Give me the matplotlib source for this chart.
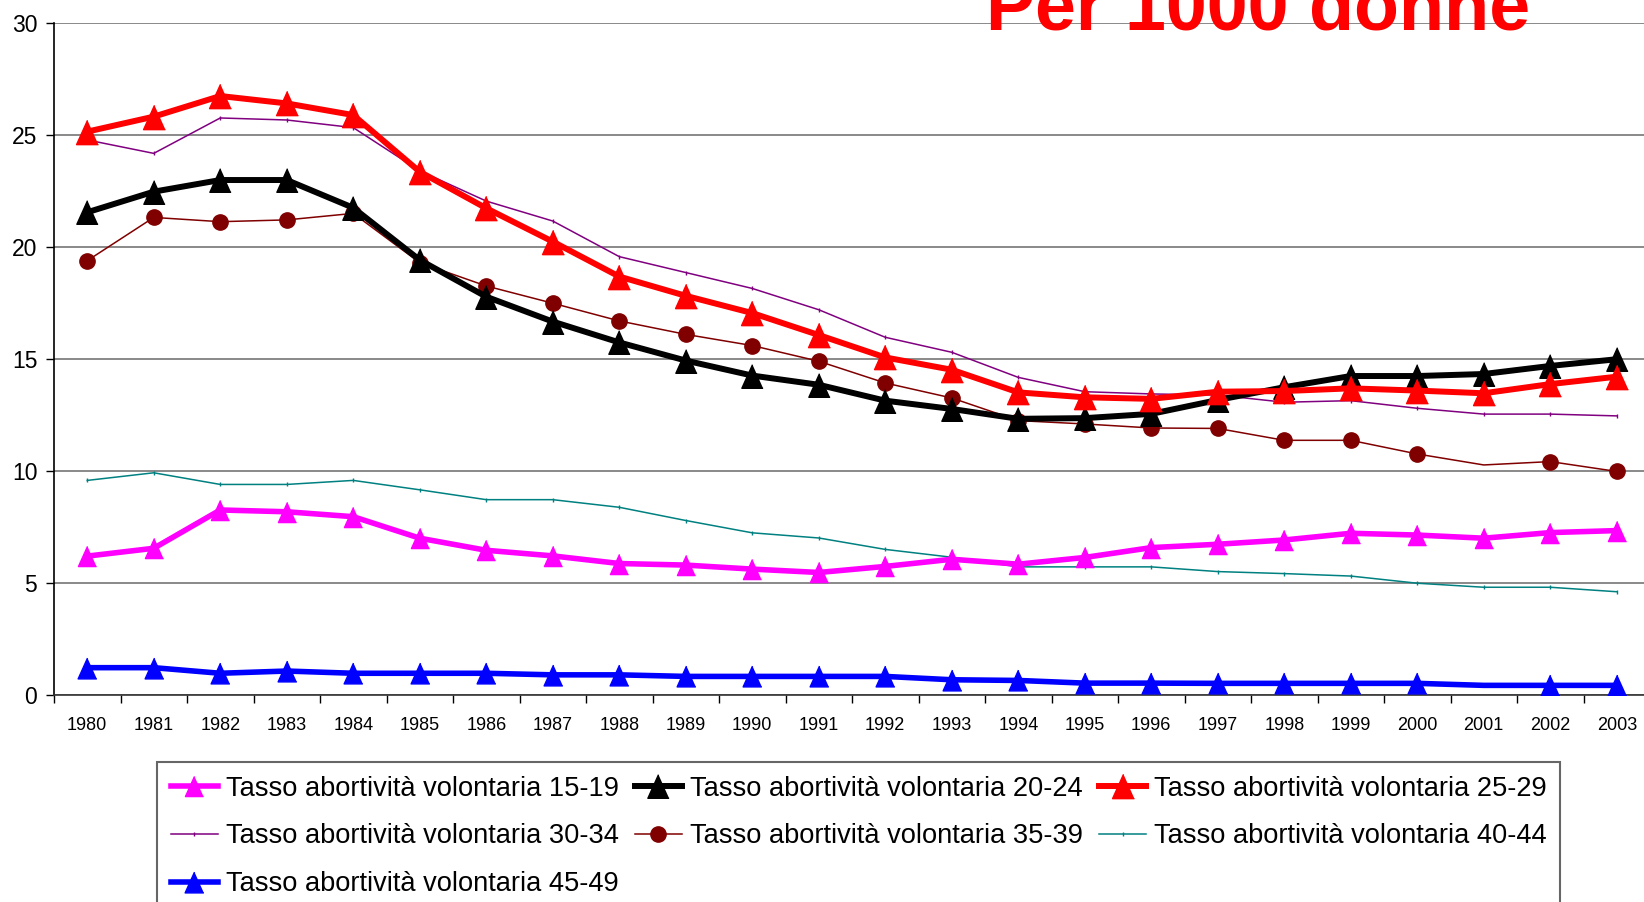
import numpy as np
from matplotlib import pyplot as plt

# ---------------------------------
# Tasso di abortività volontaria per classe d'età
# Italia, 1980-2003 (per 1000 donne)
# ---------------------------------
years = [str(y) for y in range(1980, 2004)]

t15_19 = [6.2, 6.55, 8.26, 8.18, 7.96, 7.0, 6.46, 6.21, 5.87, 5.8, 5.62, 5.47,
          5.74, 6.06, 5.84, 6.14, 6.58, 6.73, 6.92, 7.22, 7.14, 7.0, 7.25, 7.34]
t20_24 = [21.55, 22.47, 22.99, 22.99, 21.75, 19.42, 17.78, 16.67, 15.74, 14.93, 14.26, 13.85,
          13.14, 12.77, 12.33, 12.36, 12.55, 13.17, 13.74, 14.24, 14.24, 14.33, 14.69, 14.99]
t25_29 = [25.15, 25.82, 26.74, 26.41, 25.89, 23.36, 21.73, 20.24, 18.68, 17.82, 17.05, 16.07,
          15.07, 14.52, 13.51, 13.29, 13.22, 13.54, 13.57, 13.69, 13.59, 13.47, 13.88, 14.21]
t30_34 = [24.78, 24.18, 25.76, 25.67, 25.33, 23.4, 22.05, 21.16, 19.57, 18.86, 18.15, 17.2,
          15.97, 15.3, 14.18, 13.54, 13.44, 13.39, 13.07, 13.14, 12.8, 12.54, 12.54, 12.46]
t35_39 = [19.39, 21.32, 21.13, 21.21, 21.5, 19.3, 18.26, 17.49, 16.7, 16.1, 15.6, 14.9,
          13.93, 13.26, 12.25, 12.1, 11.92, 11.9, 11.37, 11.37, 10.76, 10.27, 10.42, 9.98]
t40_44 = [9.58, 9.92, 9.4, 9.4, 9.58, 9.16, 8.72, 8.72, 8.38, 7.79, 7.24, 7.01,
          6.5, 6.15, 5.72, 5.72, 5.72, 5.51, 5.42, 5.31, 4.99, 4.81, 4.81, 4.61]
t45_49 = [1.22, 1.22, 0.97, 1.07, 0.97, 0.97, 0.97, 0.9, 0.9, 0.83, 0.83, 0.83,
          0.83, 0.68, 0.65, 0.53, 0.53, 0.52, 0.52, 0.52, 0.52, 0.43, 0.43, 0.43]

plt.rcParams['font.family'] = ['Liberation Sans', 'DejaVu Sans']

x = np.arange(len(years))
tri = [(0, 1), (-0.9, -1), (0.9, -1)]      # slightly tall triangle
no2001 = [i for i in range(len(years)) if years[i] != '2001']

fig = plt.figure(figsize=(16.44, 9.02), dpi=100)
ax = fig.add_axes([54 / 1644, 207 / 902, 1596 / 1644, 672 / 902])

lines = {}
lines['15-19'], = ax.plot(x, t15_19, color='#FF00FF', lw=4.0, marker=tri, ms=14.5, zorder=4)
lines['20-24'], = ax.plot(x, t20_24, color='black', lw=4.3, marker=tri, ms=17, zorder=5)
lines['25-29'], = ax.plot(x, t25_29, color='#FF0000', lw=4.3, marker=tri, ms=17.5, zorder=6)
lines['30-34'], = ax.plot(x, t30_34, color='#800080', lw=1.1, marker='|', ms=3, mew=1, zorder=3)
lines['35-39'], = ax.plot(x, t35_39, color='#800000', lw=1.1, marker='o', ms=11,
                          markevery=no2001, zorder=4)
lines['40-44'], = ax.plot(x, t40_44, color='#008080', lw=1.1, marker='|', ms=3, mew=1, zorder=3)
lines['45-49'], = ax.plot(x, t45_49, color='#0000FF', lw=4.0, marker=tri, ms=15,
                          markevery=no2001, zorder=4)

# axes
ax.set_xlim(-0.5, len(years) - 0.5)
ax.set_ylim(0, 30)
ax.set_yticks(range(0, 31, 5))
ax.set_xticks(x)
ax.set_xticklabels(years)
ax.set_xticks(np.arange(-0.5, len(years)), minor=True)
ax.tick_params(axis='x', which='major', length=0, labelsize=13, pad=16)
ax.tick_params(axis='x', which='minor', length=6, width=1, direction='out')
ax.tick_params(axis='y', length=6, width=1, labelsize=16.5, pad=6)
ax.yaxis.grid(True, color='#808080', lw=1.3)
ax.set_axisbelow(True)
for s in ['top', 'right']:
    ax.spines[s].set_visible(False)
ax.spines['left'].set_linewidth(1.2)
ax.spines['bottom'].set_linewidth(1.2)
ax.spines['bottom'].set_color('#333333')

fig.text(986 / 1644, 1 - 29 / 902, 'Per 1000 donne', color='#FF0000', fontsize=53,
         fontweight='bold', ha='left', va='baseline')

# legend, filled by column so it reads row by row
order = ['15-19', '30-34', '45-49', '20-24', '35-39', '25-29', '40-44']
leg = fig.legend([lines[k] for k in order],
                 ['Tasso abortività volontaria ' + k for k in order],
                 ncol=3, loc='upper left', bbox_to_anchor=(157 / 1644, 1 - 762 / 902),
                 borderaxespad=0, frameon=True, fancybox=False, edgecolor='#404040',
                 prop={'size': 19.6},
                 handlelength=1.73, handletextpad=0.29, columnspacing=0.6,
                 labelspacing=0.8, borderpad=0.5)
leg.get_frame().set_linewidth(1.5)

fig.savefig('out.png', dpi=100)
